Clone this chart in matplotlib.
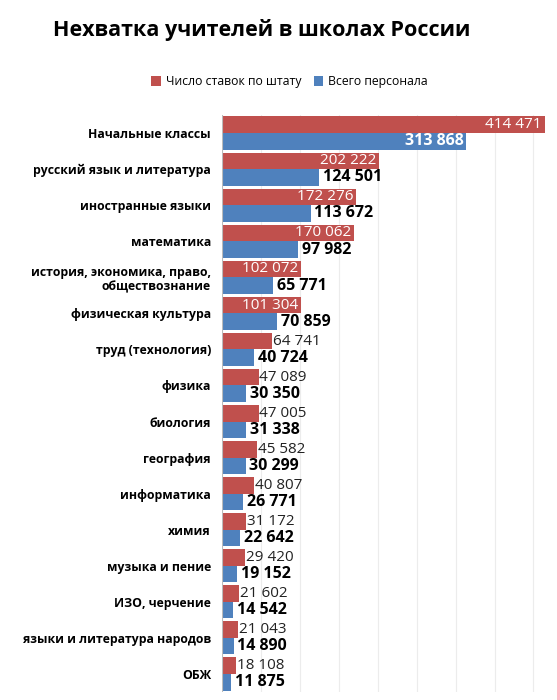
import matplotlib
matplotlib.use("Agg")
import matplotlib.pyplot as plt
import numpy as np

plt.rcParams['font.family'] = ['Open Sans', 'DejaVu Sans']

categories = ["Начальные классы", "русский язык и литература", "иностранные языки", "математика",
              "история, экономика, право,\nобществознание", "физическая культура", "труд (технология)",
              "физика", "биология", "география", "информатика", "химия", "музыка и пение",
              "ИЗО, черчение", "языки и литература народов", "ОБЖ"]
stavki = [414471, 202222, 172276, 170062, 102072, 101304, 64741, 47089, 47005, 45582, 40807, 31172, 29420, 21602, 21043, 18108]
personal = [313868, 124501, 113672, 97982, 65771, 70859, 40724, 30350, 31338, 30299, 26771, 22642, 19152, 14542, 14890, 11875]

def fmt(v):
    return f"{v:,}".replace(",", " ")

red, blue = "#c0504d", "#4f81bd"
fig = plt.figure(figsize=(5.57, 7), dpi=100)
ax = fig.add_axes([222/557, 8/700, 327/557, 577/700])
n = len(categories)
y = np.arange(n)
h = 0.46
ax.barh(y - h/2, stavki, height=h, color=red, label="Число ставок по штату")
ax.barh(y + h/2, personal, height=h, color=blue, label="Всего персонала")
ax.set_xlim(0, 420000)
ax.set_ylim(n - 0.5, -0.5)
ax.set_xticks(np.arange(50000, 420001, 50000))
ax.grid(axis='x', color='#ececec', lw=0.8)
ax.set_axisbelow(True)
ax.tick_params(axis='x', length=0, labelbottom=False)
ax.tick_params(axis='y', length=0, pad=8)
ax.set_yticks(y)
ax.set_yticklabels(categories, fontsize=8.8, fontweight='bold', ha='right')
for s in ax.spines.values():
    s.set_visible(False)
ax.axvline(0, color='#bbbbbb', lw=0.8)

for i in range(n):
    v = stavki[i]
    if v >= 100000:
        ax.text(v - 4000, i - h/2, fmt(v), ha='right', va='center', color='white', fontsize=11)
    else:
        ax.text(v + 1000, i - h/2, fmt(v), ha='left', va='center', color='#222222', fontsize=11)
    v = personal[i]
    if v >= 200000:
        ax.text(v - 4000, i + h/2, fmt(v), ha='right', va='center', color='white', fontsize=11.5, fontweight='bold')
    else:
        ax.text(v + 5000, i + h/2, fmt(v), ha='left', va='center', color='black', fontsize=11.5, fontweight='bold')

fig.text(0.47, 0.957, "Нехватка учителей в школах России", ha='center', va='center', fontsize=15.5, fontweight='bold')
fig.legend(loc='center', bbox_to_anchor=(0.52, 0.883), ncol=2, frameon=False, fontsize=8.8,
           handlelength=0.8, handleheight=0.8, columnspacing=1.0, handletextpad=0.4)
fig.savefig("out.png", dpi=100, facecolor='white')
